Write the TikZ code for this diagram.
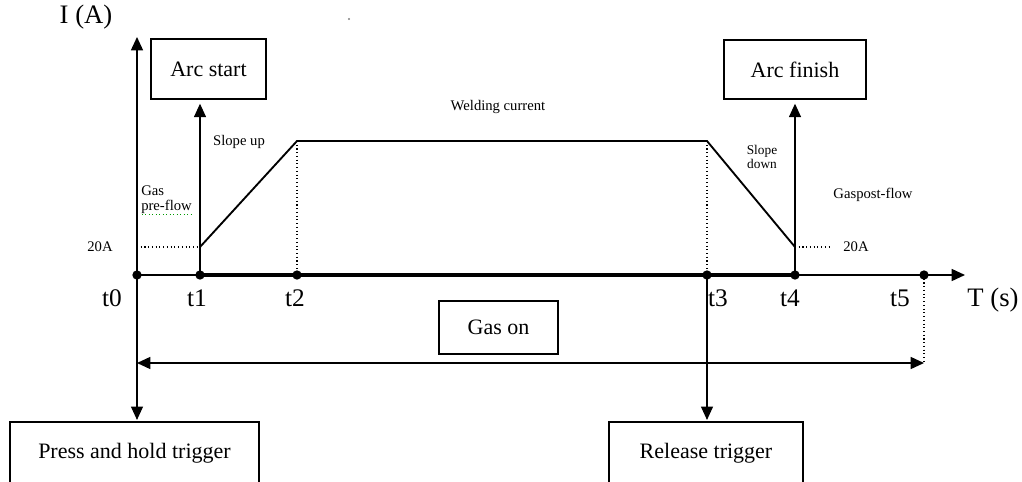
\documentclass[tikz,border=0pt]{standalone}
\usepackage{fontspec}
\setmainfont{Liberation Serif}
\usetikzlibrary{arrows.meta}
\begin{document}
\begin{tikzpicture}[x=0.75pt,y=-0.75pt,
  box/.style={draw,line width=1.1pt,inner sep=0pt,font=\fontsize{16.5}{18}\selectfont},
  tipend/.style={-{Triangle[length=10pt,width=9pt]}},
  smalltxt/.style={font=\fontsize{11}{12}\selectfont,inner sep=0pt},
  bigtxt/.style={font=\fontsize{20}{22}\selectfont,inner sep=0pt},
  tlabel/.style={font=\fontsize{19}{22}\selectfont,inner sep=0pt},
  tdot/.style={circle,fill,inner sep=0pt,minimum size=7pt},
  dotline/.style={dotted,line width=0.8pt},
  thinline/.style={line width=0.8pt}]
\useasboundingbox (0,0) rectangle (1022,482);
% time points
\coordinate (t0) at (137,275);
\coordinate (t1) at (200,275);
\coordinate (t2) at (297,275);
\coordinate (t3) at (707,275);
\coordinate (t4) at (795,275);
\coordinate (t5) at (924,275);
\coordinate (a1) at (200,247);
\coordinate (p2) at (297,141);
\coordinate (p3) at (707,141);
\coordinate (a4) at (795,247);
\coordinate (xtip) at (965,275);
\coordinate (ytip) at (137,37);
\coordinate (l20) at (137,247);
\coordinate (r20) at (830,247);
\coordinate (g0) at (137,363);
\coordinate (g5) at (924,363);
% boxes
\node[box,minimum width=86.25pt,minimum height=45pt] (arcstart) at (208.5,69) {Arc start};
\node[box,minimum width=106.5pt,minimum height=44.25pt] (arcfinish) at (795,69.5) {Arc finish};
\node[box,minimum width=89.25pt,minimum height=39.75pt] (gason) at (498.5,327.5) {Gas on};
\node[box,minimum width=186.75pt,minimum height=46.5pt] (press) at (134.5,453) {Press and hold trigger};
\node[box,minimum width=145.5pt,minimum height=46.5pt] (release) at (706,453) {Release trigger};
% axes
\draw[line width=1.1pt,tipend] (t0) -- (xtip);
\draw[line width=1.1pt,tipend] (t0) -- (ytip);
\draw[thinline,tipend,shorten >=1pt] (t0) -- (t0 |- press.north);
\draw[thinline,tipend,shorten >=1pt] (t3) -- (t3 |- release.north);
% dotted guides
\draw[dotline] (l20) -- (a1);
\draw[dotline] (p2) -- (t2);
\draw[dotline] (p3) -- (t3);
\draw[dotline] (a4) -- (r20);
\draw[dotline] (t5) -- (g5);
% arrows up to arc boxes
\draw[thinline,tipend,shorten >=3pt] (a1) -- (a1 |- arcstart.south);
\draw[thinline,tipend,shorten >=3pt] (a4) -- (a4 |- arcfinish.south);
% current curve
\draw[line width=3pt] (t1) -- (t4);
\draw[line width=1.4pt,line join=miter] (t1) -- (a1) -- (p2) -- (p3) -- (a4) -- (t4);
% gas on arrow
\draw[line width=1.1pt,{Triangle[length=10pt,width=9pt]}-{Triangle[length=10pt,width=9pt]}] (g0) -- (g5);
% dots
\foreach \p in {t0,t1,t2,t3,t4,t5} \node[tdot] (d\p) at (\p) {};
% labels
\node[bigtxt] (ylab) at (86,17) {I (A)};
\node[bigtxt] (xlab) at (993,300) {T (s)};
\node[tlabel] (lt0) at (112,298) {t0};
\node[tlabel] (lt1) at (197,298) {t1};
\node[tlabel] (lt2) at (295,298) {t2};
\node[tlabel] (lt3) at (718,298) {t3};
\node[tlabel] (lt4) at (790,298) {t4};
\node[tlabel] (lt5) at (900,298) {t5};
\node[smalltxt] (weld) at (498,107) {Welding current};
\node[smalltxt] (sup) at (239,142) {Slope up};
\node[smalltxt,align=left,anchor=west,font=\fontsize{11}{11}\selectfont] (pre) at (141,200) {Gas\\pre-flow};
\draw[green!60!black,dotted,line width=0.6pt] (142,214) -- (193,214);
\node[smalltxt] (l20a) at (100,247) {20A};
\node[smalltxt,align=center,font=\fontsize{10}{8.5}\selectfont] (sdown) at (762,157) {Slope\\down};
\node[smalltxt] (post) at (873,195) {Gaspost-flow};
\node[smalltxt] (r20a) at (856,247) {20A};
\fill[gray] (349,19) circle (0.9pt);
\end{tikzpicture}
\end{document}
